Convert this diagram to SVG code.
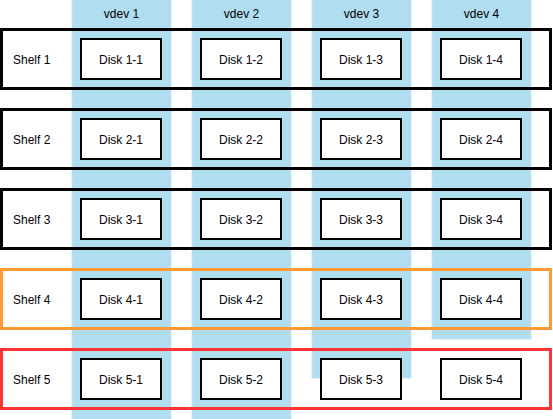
<svg xmlns="http://www.w3.org/2000/svg" width="553" height="419" viewBox="0 0 553 419">
<style>
.vdev{fill:#b1ddf0;stroke:#c4e6f5;stroke-width:1}
.shelf{fill:none;stroke-width:3}
.disk{fill:#ffffff;stroke:#000000;stroke-width:2}
text{font-family:"Liberation Sans",Arial,sans-serif;font-size:12px;fill:#000000}
.c{text-anchor:middle}
</style>
<rect width="553" height="419" fill="#ffffff"/>
<g id="vdevs">
<g id="vdev1"><rect class="vdev" x="72" y="-1" width="99" height="421"/><text class="c" x="121.5" y="18">vdev 1</text></g>
<g id="vdev2"><rect class="vdev" x="192" y="-1" width="99" height="421"/><text class="c" x="241.5" y="18">vdev 2</text></g>
<g id="vdev3"><rect class="vdev" x="312" y="-1" width="99" height="379"/><text class="c" x="361.5" y="18">vdev 3</text></g>
<g id="vdev4"><rect class="vdev" x="432" y="-1" width="99" height="340"/><text class="c" x="481.5" y="18">vdev 4</text></g>
</g>
<g id="shelves">
<g id="shelf1"><rect class="shelf" stroke="#000000" x="1.5" y="29.5" width="549" height="59"/><text x="13" y="64">Shelf 1</text></g>
<g id="shelf2"><rect class="shelf" stroke="#000000" x="1.5" y="109.5" width="549" height="59"/><text x="13" y="144">Shelf 2</text></g>
<g id="shelf3"><rect class="shelf" stroke="#000000" x="1.5" y="189.5" width="549" height="59"/><text x="13" y="224">Shelf 3</text></g>
<g id="shelf4"><rect class="shelf" stroke="#ff9933" x="1.5" y="269.5" width="549" height="59"/><text x="13" y="304">Shelf 4</text></g>
<g id="shelf5"><rect class="shelf" stroke="#ff3333" x="1.5" y="349.5" width="549" height="59"/><text x="13" y="384">Shelf 5</text></g>
</g>
<g id="disks">
<g id="disk1-1"><rect class="disk" x="81" y="39" width="80" height="40"/><text class="c" x="121" y="64">Disk 1-1</text></g>
<g id="disk1-2"><rect class="disk" x="201" y="39" width="80" height="40"/><text class="c" x="241" y="64">Disk 1-2</text></g>
<g id="disk1-3"><rect class="disk" x="321" y="39" width="80" height="40"/><text class="c" x="361" y="64">Disk 1-3</text></g>
<g id="disk1-4"><rect class="disk" x="441" y="39" width="80" height="40"/><text class="c" x="481" y="64">Disk 1-4</text></g>
<g id="disk2-1"><rect class="disk" x="81" y="119" width="80" height="40"/><text class="c" x="121" y="144">Disk 2-1</text></g>
<g id="disk2-2"><rect class="disk" x="201" y="119" width="80" height="40"/><text class="c" x="241" y="144">Disk 2-2</text></g>
<g id="disk2-3"><rect class="disk" x="321" y="119" width="80" height="40"/><text class="c" x="361" y="144">Disk 2-3</text></g>
<g id="disk2-4"><rect class="disk" x="441" y="119" width="80" height="40"/><text class="c" x="481" y="144">Disk 2-4</text></g>
<g id="disk3-1"><rect class="disk" x="81" y="199" width="80" height="40"/><text class="c" x="121" y="224">Disk 3-1</text></g>
<g id="disk3-2"><rect class="disk" x="201" y="199" width="80" height="40"/><text class="c" x="241" y="224">Disk 3-2</text></g>
<g id="disk3-3"><rect class="disk" x="321" y="199" width="80" height="40"/><text class="c" x="361" y="224">Disk 3-3</text></g>
<g id="disk3-4"><rect class="disk" x="441" y="199" width="80" height="40"/><text class="c" x="481" y="224">Disk 3-4</text></g>
<g id="disk4-1"><rect class="disk" x="81" y="279" width="80" height="40"/><text class="c" x="121" y="304">Disk 4-1</text></g>
<g id="disk4-2"><rect class="disk" x="201" y="279" width="80" height="40"/><text class="c" x="241" y="304">Disk 4-2</text></g>
<g id="disk4-3"><rect class="disk" x="321" y="279" width="80" height="40"/><text class="c" x="361" y="304">Disk 4-3</text></g>
<g id="disk4-4"><rect class="disk" x="441" y="279" width="80" height="40"/><text class="c" x="481" y="304">Disk 4-4</text></g>
<g id="disk5-1"><rect class="disk" x="81" y="359" width="80" height="40"/><text class="c" x="121" y="384">Disk 5-1</text></g>
<g id="disk5-2"><rect class="disk" x="201" y="359" width="80" height="40"/><text class="c" x="241" y="384">Disk 5-2</text></g>
<g id="disk5-3"><rect class="disk" x="321" y="359" width="80" height="40"/><text class="c" x="361" y="384">Disk 5-3</text></g>
<g id="disk5-4"><rect class="disk" x="441" y="359" width="80" height="40"/><text class="c" x="481" y="384">Disk 5-4</text></g>
</g>
<g id="connectors"/>
</svg>
